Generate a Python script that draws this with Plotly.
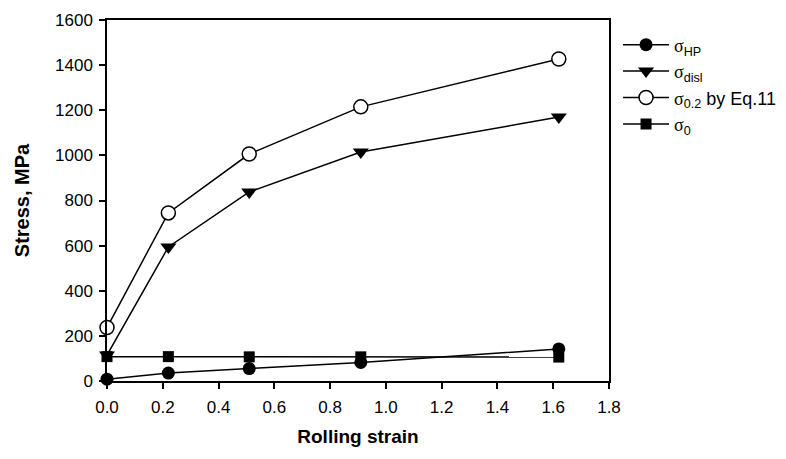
import plotly.graph_objects as go

strain = [0.0, 0.22, 0.51, 0.91, 1.62]
sigma_hp = [8, 35, 55, 82, 142]
sigma_disl = [115, 594, 838, 1015, 1170]
sigma_02 = [237, 745, 1006, 1215, 1427]
sigma_0 = [108, 108, 107, 107, 106]

x_ticks = [0.0, 0.2, 0.4, 0.6, 0.8, 1.0, 1.2, 1.4, 1.6, 1.8]
y_ticks = [0, 200, 400, 600, 800, 1000, 1200, 1400, 1600]

SIG = '<span style="font-family:\'Liberation Serif\', \'Times New Roman\', serif">σ</span>'

series = [
    (SIG + "<sub>HP</sub>", sigma_hp, dict(symbol="circle", size=13, color="black")),
    (SIG + "<sub>disl</sub>", sigma_disl, dict(symbol="triangle-down", size=14, color="black")),
    (SIG + "<sub>0.2</sub> by Eq.11", sigma_02,
     dict(symbol="circle", size=14, color="white", line=dict(color="black", width=1.5))),
    (SIG + "<sub>0</sub>", sigma_0, dict(symbol="square", size=11, color="black")),
]

fig = go.Figure()
for name, vals, mk in series:
    fig.add_trace(go.Scatter(
        x=strain, y=vals, name=name, mode="lines+markers",
        line=dict(color="black", width=1.5), marker=mk, cliponaxis=False,
    ))

font = dict(family="Arial, 'Liberation Sans', sans-serif", color="black")
fig.update_layout(
    width=786, height=459,
    margin=dict(l=99, r=185, t=12, b=86, autoexpand=False),
    paper_bgcolor="white", plot_bgcolor="white",
    font=dict(**font, size=17),
    showlegend=True,
    legend=dict(x=1.018, y=0.982, xanchor="left", yanchor="top",
                font=dict(size=18), itemwidth=46, tracegroupgap=0,
                bgcolor="rgba(0,0,0,0)"),
    xaxis=dict(range=[0, 1.8], tickvals=x_ticks, ticktext=[f"{v:.1f}" for v in x_ticks],
               showline=True, linecolor="black", linewidth=1.5, mirror=True,
               ticks="outside", ticklen=6, tickwidth=1.5, tickcolor="black",
               ticklabelstandoff=4,
               showgrid=False, zeroline=False, automargin=False,
               title=dict(text="<b>Rolling strain</b>", font=dict(size=19), standoff=14)),
    yaxis=dict(range=[0, 1600], tickvals=y_ticks,
               showline=True, linecolor="black", linewidth=1.5, mirror=True,
               ticks="outside", ticklen=6, tickwidth=1.5, tickcolor="black",
               ticklabelstandoff=3,
               showgrid=False, zeroline=False, automargin=False,
               title=dict(text="<b>Stress, MPa</b>", font=dict(size=20), standoff=20)),
)

fig.write_html("out.html")
